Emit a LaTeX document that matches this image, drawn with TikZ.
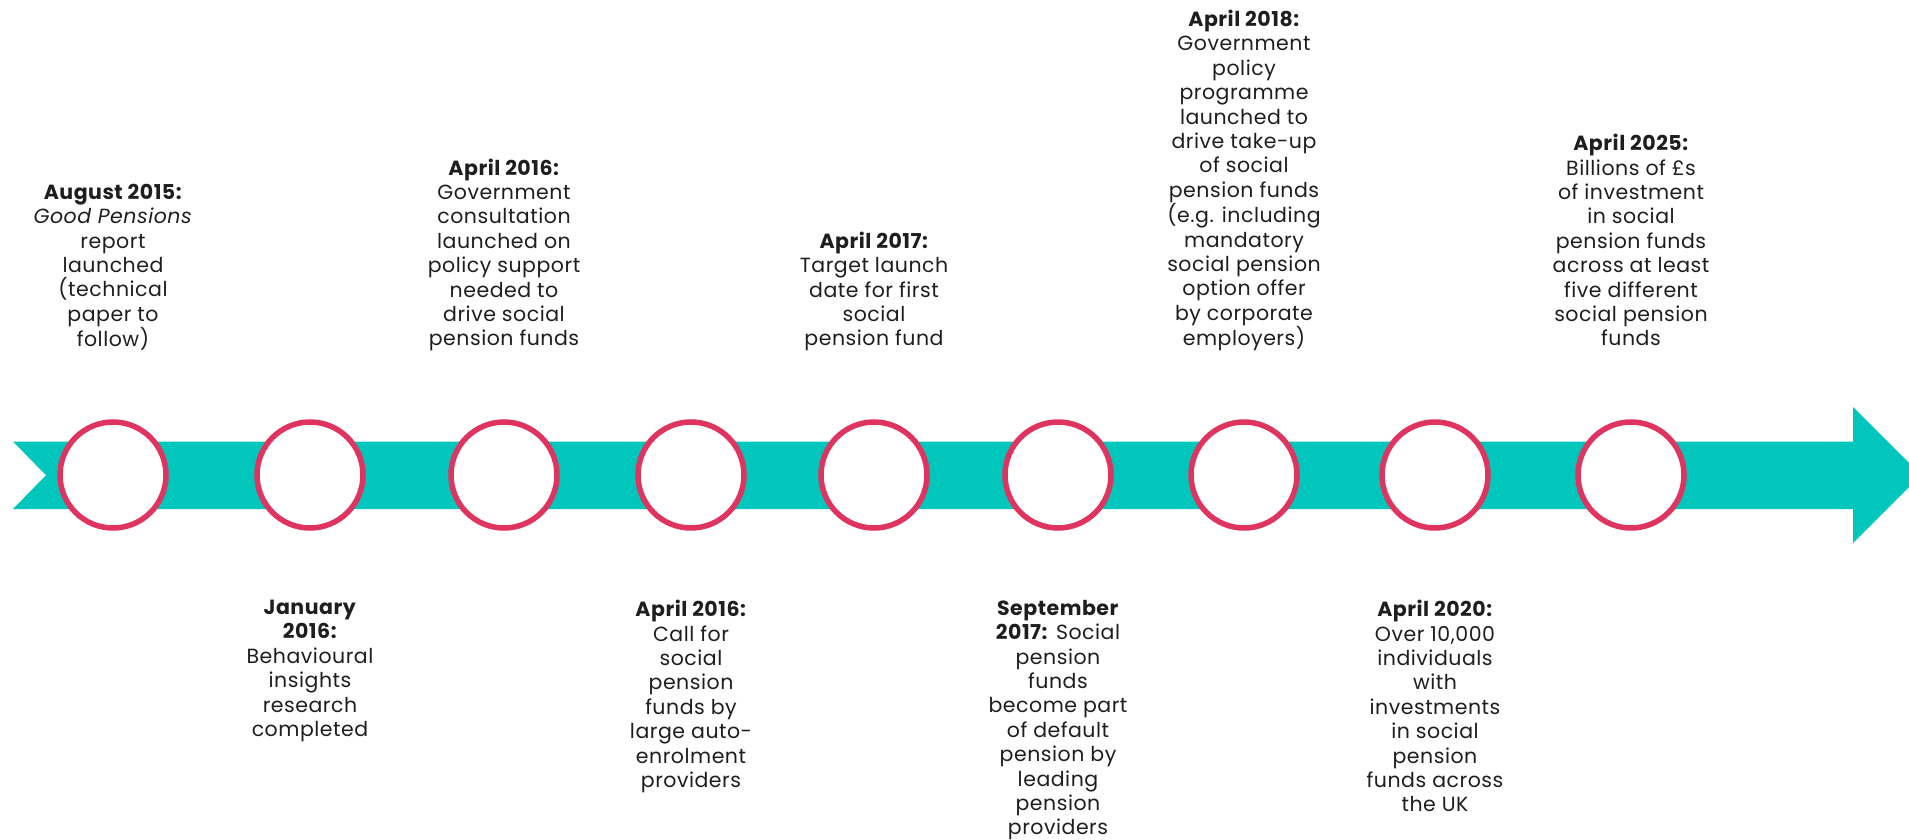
\documentclass[tikz,border=0pt]{standalone}
\usepackage{fontspec}
\setmainfont{Poppins}[LetterSpace=2.5]
\definecolor{bandteal}{RGB}{0,198,188}
\definecolor{ringpink}{RGB}{224,52,96}
\definecolor{inkgray}{RGB}{30,30,30}
\tikzset{
  ring/.style={circle, draw=ringpink, line width=5.5pt, fill=white, minimum size=106pt, inner sep=0pt},
  labtext/.style={align=center, inner sep=0pt, text=inkgray, font=\fontsize{20.5}{24.4}\selectfont},
  toplab/.style={labtext, anchor=south, text depth=0pt},
  botlab/.style={labtext, anchor=north},
}
\begin{document}
\begin{tikzpicture}[x=1pt,y=-1pt]
\useasboundingbox (0,0) rectangle (1909,840);
\clip (0,0) rectangle (1909,840);
\fill[bandteal] (13,441.5) -- (1853,441.5) -- (1853,407) -- (1921,475) -- (1853,543) -- (1853,509) -- (13,509) -- (46,475.25) -- cycle;
\node[ring] (c1) at (113,475) {};
\node[ring] (c2) at (310,475) {};
\node[ring] (c3) at (504,475) {};
\node[ring] (c4) at (691,475) {};
\node[ring] (c5) at (874,475) {};
\node[ring] (c6) at (1058,475) {};
\node[ring] (c7) at (1244,475) {};
\node[ring] (c8) at (1435,475) {};
\node[ring] (c9) at (1631,475) {};

\node[toplab] (t1) at (113,347) {\textbf{August 2015:}\\\textit{Good Pensions}\\report\\launched\\(technical\\paper to\\follow)};
\node[toplab] (t3) at (504,346) {\textbf{April 2016:}\\Government\\consultation\\launched on\\policy support\\needed to\\drive social\\pension funds};
\node[toplab] (t5) at (874,346) {\textbf{April 2017:}\\Target launch\\date for first\\social\\pension fund};
\node[toplab] (t7) at (1244,346) {\textbf{April 2018:}\\Government\\policy\\programme\\launched to\\drive take-up\\of social\\pension funds\\(e.g. including\\mandatory\\social pension\\option offer\\by corporate\\employers)};
\node[toplab] (t9) at (1631,346) {\textbf{April 2025:}\\Billions of £s\\of investment\\in social\\pension funds\\across at least\\five different\\social pension\\funds};

\node[botlab] (b2) at (310,600) {\textbf{January}\\\textbf{2016:}\\Behavioural\\insights\\research\\completed};
\node[botlab] (b4) at (691,600) {\textbf{April 2016:}\\Call for\\social\\pension\\funds by\\large auto-\\enrolment\\providers};
\node[botlab] (b6) at (1058,600) {\textbf{September}\\\textbf{2017:} Social\\pension\\funds\\become part\\of default\\pension by\\leading\\pension\\providers};
\node[botlab] (b8) at (1435,600) {\textbf{April 2020:}\\Over 10,000\\individuals\\with\\investments\\in social\\pension\\funds across\\the UK};
\end{tikzpicture}
\end{document}
